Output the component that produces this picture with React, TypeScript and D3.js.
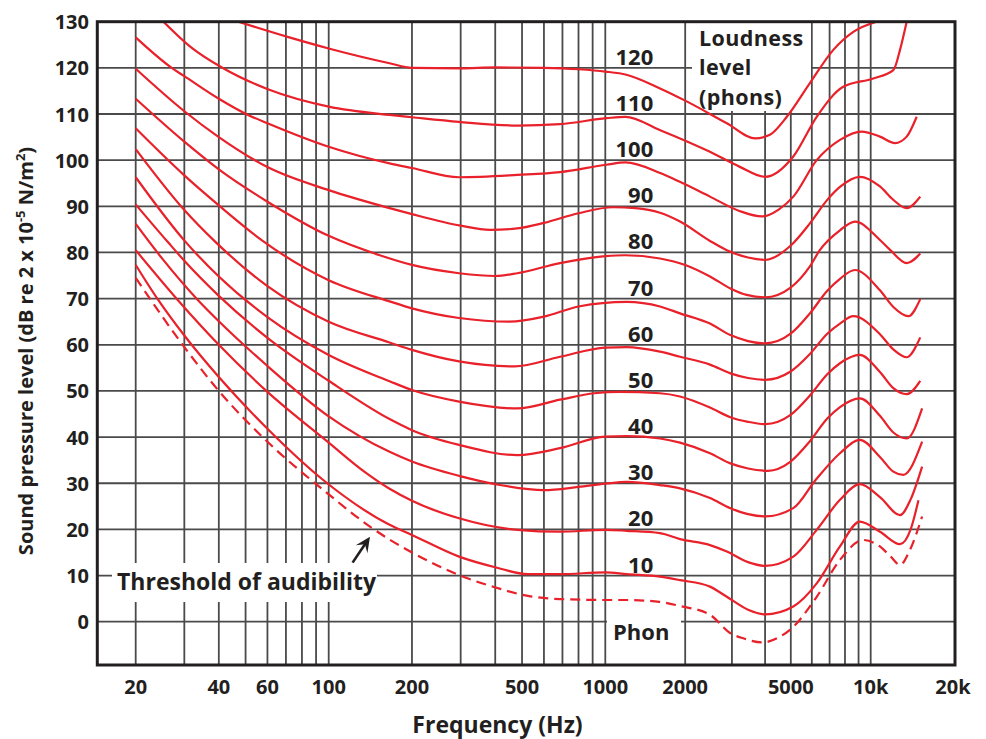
import React from 'react';
import * as d3 from 'd3';

// ---------- data (frequency in Hz, level in dB) ----------
const phon120 = [[47,130],[72,126.6],[100,124.2],[166,121.0],[200,120.0],[300,119.9],[400,120.1],[600,120.0],[800,119.7],[1000,119.2],[1200,118.5],[1600,115.6],[2000,112.9],[2870,108.0],[3670,104.7],[4170,105.5],[4830,109.4],[5900,116.7],[7230,123.9],[8600,127.8],[10500,130]];
const phon110 = [[25.2,130],[31.5,124.6],[41.5,119.9],[60.6,115.3],[100,111.6],[166,109.8],[200,109.3],[296,108.3],[481,107.5],[686,107.8],[1010,109.1],[1190,109.4],[1610,106.5],[2480,101.8],[3200,98.6],[4000,96.4],[5110,100.8],[6260,109.4],[7880,115.9],[10220,117.7],[12100,119.5],[12800,123.9],[13540,130]];
const phon100 = [[20,126.6],[27,120.0],[30,118.2],[40,113.3],[51,109.8],[60,108.0],[100,102.9],[166,99.3],[200,98.3],[296,96.3],[481,96.8],[686,97.4],[1010,99.0],[1190,99.5],[1610,97.2],[1910,95.3],[2480,92.1],[3200,89.0],[3890,87.8],[4500,89.3],[5110,92.1],[6260,100.0],[7660,104.4],[9250,106.2],[10810,105.1],[12270,103.7],[13540,105.1],[14730,109.4]];
const phon90 = [[20,119.8],[30,110.6],[40,105.0],[60,98.5],[100,93.5],[166,89.6],[200,88.3],[300,85.8],[383,84.9],[480,85.2],[600,86.4],[800,88.5],[1070,89.8],[1300,89.6],[1607,88.6],[1912,86.7],[2480,82.5],[2870,80.5],[3450,78.9],[4000,78.4],[5000,81.5],[5900,86.3],[6860,91.4],[7660,94.2],[9100,96.4],[10810,94.3],[12100,91.4],[13540,89.6],[15180,92.1]];
const phon80 = [[20,113.3],[30,104.0],[40,98.0],[60,91.0],[100,83.6],[153,79.4],[200,77.3],[296,75.5],[400,74.9],[481,75.5],[686,77.7],[1000,79.2],[1186,79.4],[1607,78.7],[2000,77.3],[2480,74.8],[2960,72.2],[3410,70.8],[4000,70.3],[4990,72.4],[5900,77.0],[6430,80.5],[7660,84.8],[8720,86.7],[10810,82.7],[11800,80.5],[13540,77.7],[15180,79.8]];
const phon70 = [[20,106.9],[30,96.7],[40,90.2],[58,82.4],[100,74.0],[166,69.4],[200,67.9],[296,65.8],[450,65.0],[600,66.1],[800,68.3],[1204,69.3],[1607,68.3],[1912,66.8],[2480,64.6],[2960,62.1],[3450,60.8],[4000,60.3],[4990,62.4],[5900,66.8],[6860,71.7],[7660,74.3],[8720,76.2],[10810,71.8],[12100,68.2],[13730,66.2],[15180,69.9]];
const phon60 = [[20,102.4],[30,89.2],[38.7,82.4],[60,72.7],[100,65.0],[166,60.5],[200,58.9],[296,56.4],[470,55.3],[686,57.4],[1000,59.4],[1204,59.5],[1607,58.5],[1912,57.4],[2480,55.7],[2960,53.8],[3450,52.8],[4000,52.4],[4990,54.2],[5900,58.0],[6860,62.4],[7660,64.6],[8600,66.2],[10810,62.3],[12100,59.0],[13540,57.3],[15180,61.6]];
const phon50 = [[20,96.3],[30.2,82.4],[40,74.8],[60,66.0],[100,57.8],[166,52.1],[200,50.2],[296,47.7],[481,46.2],[686,48.1],[912,49.5],[1130,49.8],[1607,49.5],[1912,48.8],[2480,46.4],[2960,44.3],[3450,43.3],[4000,42.8],[4990,44.8],[5900,49.0],[6860,53.6],[7660,56.0],[9100,57.8],[10810,54.1],[12100,50.6],[13540,49.3],[15180,52.2]];
const phon40 = [[20,90.4],[26.2,82.2],[30,78.2],[40,70.6],[60,61.5],[100,52.2],[166,43.9],[200,41.5],[296,38.3],[481,36.1],[686,37.6],[1000,40.1],[1204,40.2],[1607,39.7],[1912,38.8],[2480,36.5],[2960,34.3],[3450,33.2],[4100,32.7],[4990,34.7],[5900,39.1],[6860,44.0],[7660,46.5],[9100,48.4],[10810,44.6],[12100,41.0],[13540,39.7],[15420,46.2]];
const phon30 = [[20,86.2],[25,78.6],[33.7,69.6],[40,65.1],[60,55.4],[100,44.5],[166,36.8],[200,34.7],[296,31.6],[400,29.8],[600,28.5],[800,29.2],[1000,29.9],[1204,30.3],[1607,29.6],[1912,28.9],[2480,26.8],[2960,24.6],[3450,23.3],[4000,22.8],[5110,24.6],[6200,30.7],[7660,36.5],[9100,39.4],[10810,35.7],[12100,32.5],[13160,31.8],[15420,39.0]];
const phon20 = [[20,80.5],[28.5,69.6],[40,60.0],[60,49.8],[100,38.8],[136,32.3],[166,28.8],[200,26.2],[296,22.4],[481,19.9],[686,19.5],[1000,19.9],[1204,19.7],[1607,19.2],[1912,17.9],[2480,16.6],[2870,15.2],[3450,12.9],[4000,12.1],[5110,14.1],[6260,19.9],[7660,26.4],[9100,29.8],[10810,27.0],[12800,23.1],[14000,26.5],[15420,33.6]];
const phon10 = [[20,77.3],[24.2,69.6],[30,62.0],[40,53.0],[60,41.8],[95.5,30.7],[166,21.0],[200,18.8],[296,14.1],[400,11.8],[525,10.3],[686,10.3],[1000,10.7],[1204,10.3],[1607,9.75],[1912,9.0],[2480,7.6],[2870,5.4],[3450,2.6],[4000,1.6],[5110,3.3],[6260,8.3],[7660,16.3],[9100,21.7],[10810,19.5],[12800,16.8],[14000,20.0],[14950,26.3]];
const threshold = [[20,74.5],[30,59.5],[40,50.0],[60,39.0],[100,27.6],[141,20.6],[166,17.8],[200,15.0],[296,10.1],[392,7.6],[525,5.6],[686,4.9],[1000,4.7],[1200,4.7],[1600,4.3],[1912,3.4],[2480,1.5],[2960,-2.5],[3310,-3.6],[3900,-4.5],[4500,-3.4],[5110,-1.1],[6260,5.4],[7660,13.4],[9390,17.7],[10800,16.3],[11800,14.2],[12800,12.3],[13900,15.5],[15420,22.8]];

const solidCurves = [phon120, phon110, phon100, phon90, phon80, phon70, phon60, phon50, phon40, phon30, phon20, phon10];
const phonLabels = [120, 110, 100, 90, 80, 70, 60, 50, 40, 30, 20, 10];

const gridFreqs = [20,30,40,50,60,70,80,90,100,200,300,400,500,600,700,800,900,1000,2000,3000,4000,5000,6000,7000,8000,9000,10000];
const xTickValues = [20,40,60,100,200,500,1000,2000,5000,10000,20000];
const xTickLabels = ['20','40','60','100','200','500','1000','2000','5000','10k','20k'];
const yTicks = [0,10,20,30,40,50,60,70,80,90,100,110,120,130];
const gridLevels = [0,10,20,30,40,50,60,70,80,90,100,110,120];

// x axis is a hand drawn (piecewise) log scale
const freqNodes = [20, 100, 1000, 10000, 20000];

const RED = '#e8212a';
const GRID = '#4a4a4a';
const INK = '#231f20';
const FONT = "'Open Sans', 'Noto Sans', sans-serif";

export default function App() {
  const left = 97.3, right = 955, top = 21.7, bottom = 665;
  const x = d3.scaleLog().domain(freqNodes).range([135.7, 328.7, 605.3, 870.7, 953]);
  const y = d3.scaleLinear().domain([0, 130]).range([621.7, 21.7]);
  const line = d3.line<number[]>()
    .x(d => x(d[0]))
    .y(d => y(d[1]))
    .curve(d3.curveMonotoneX);

  // arrow annotation (data units)
  const arrowTip = [141, 18.4];
  const arrowTail = [122, 12.8];
  const tx = x(arrowTip[0]), ty = y(arrowTip[1]);
  const sx = x(arrowTail[0]), sy = y(arrowTail[1]);
  const ang = Math.atan2(ty - sy, tx - sx);
  const hl = 15, hw = 7;
  const bx = tx - hl * Math.cos(ang), by = ty - hl * Math.sin(ang);
  const nx = -Math.sin(ang), ny = Math.cos(ang);
  const head = `M${tx},${ty} L${bx + nx * hw},${by + ny * hw} L${tx - 0.6 * hl * Math.cos(ang)},${ty - 0.6 * hl * Math.sin(ang)} L${bx - nx * hw},${by - ny * hw} Z`;

  const labelX = x(1516);

  return (
    <svg width={986} height={739} style={{ position: 'absolute', left: 0, top: 0 }} fontFamily={FONT}>
      <defs>
        <clipPath id="plotClip">
          <rect x={left} y={top} width={right - left} height={bottom - top} />
        </clipPath>
      </defs>
      <rect x={0} y={0} width={986} height={739} fill="#fff" />

      {/* grid */}
      <g stroke={GRID} strokeWidth={1.8}>
        {gridFreqs.map(f => (
          <line key={'v' + f} x1={x(f)} x2={x(f)} y1={top} y2={bottom} />
        ))}
        {gridLevels.map(v => (
          <line key={'h' + v} x1={left} x2={right} y1={y(v)} y2={y(v)} />
        ))}
      </g>

      {/* label backgrounds that break the grid */}
      <rect x={692} y={top + 1} width={119} height={111 - top - 1} fill="#fff" />
      <rect x={112} y={563} width={265} height={39} fill="#fff" />
      <rect x={607} y={617} width={74} height={10} fill="#fff" />

      {/* curves */}
      <g clipPath="url(#plotClip)" fill="none" stroke={RED} strokeWidth={2.2} strokeLinejoin="round">
        {solidCurves.map((c, i) => (
          <path key={i} d={line(c) || ''} />
        ))}
        <path d={line(threshold) || ''} strokeDasharray="10,6" />
      </g>

      {/* frame */}
      <rect x={left} y={top} width={right - left} height={bottom - top} fill="none" stroke={INK} strokeWidth={3} />

      {/* y tick labels */}
      <g fontSize={20} fontWeight={700} fill={INK} textAnchor="end">
        {yTicks.map(v => (
          <text key={v} x={89} y={y(v) + 7.5}>{v}</text>
        ))}
      </g>

      {/* x tick labels */}
      <g fontSize={20} fontWeight={700} fill={INK} textAnchor="middle">
        {xTickValues.map((f, i) => (
          <text key={f} x={x(f)} y={694}>{xTickLabels[i]}</text>
        ))}
      </g>

      {/* axis titles */}
      <text x={497.5} y={733} fontSize={23} fontWeight={700} fill={INK} textAnchor="middle">Frequency (Hz)</text>
      <text transform="translate(33,351) rotate(-90)" fontSize={20} fontWeight={700} fill={INK} textAnchor="middle">
        Sound pressure level (dB re 2 x 10<tspan fontSize={13} dy={-8}>-5</tspan><tspan dy={8}> N/m</tspan><tspan fontSize={13} dy={-8}>2</tspan><tspan dy={8}>)</tspan>
      </text>

      {/* phon labels */}
      <g fontSize={22} fontWeight={700} fill={INK} textAnchor="end">
        {phonLabels.map(p => (
          <text key={p} x={labelX} y={y(p) - 3}>{p}</text>
        ))}
      </g>
      <text x={613} y={640} fontSize={22} fontWeight={700} fill={INK}>Phon</text>

      {/* loudness level box text */}
      <text fontSize={21.5} fontWeight={700} fill={INK} letterSpacing={0.4}>
        <tspan x={699} y={45.5}>Loudness</tspan>
        <tspan x={699} y={75}>level</tspan>
        <tspan x={699} y={104.5}>(phons)</tspan>
      </text>

      {/* threshold annotation */}
      <text x={117} y={590} fontSize={23} fontWeight={700} fill={INK}>Threshold of audibility</text>
      <line x1={sx} y1={sy} x2={bx + 0.5 * hl * Math.cos(ang)} y2={by + 0.5 * hl * Math.sin(ang)} stroke={INK} strokeWidth={2.6} />
      <path d={head} fill={INK} />
    </svg>
  );
}
